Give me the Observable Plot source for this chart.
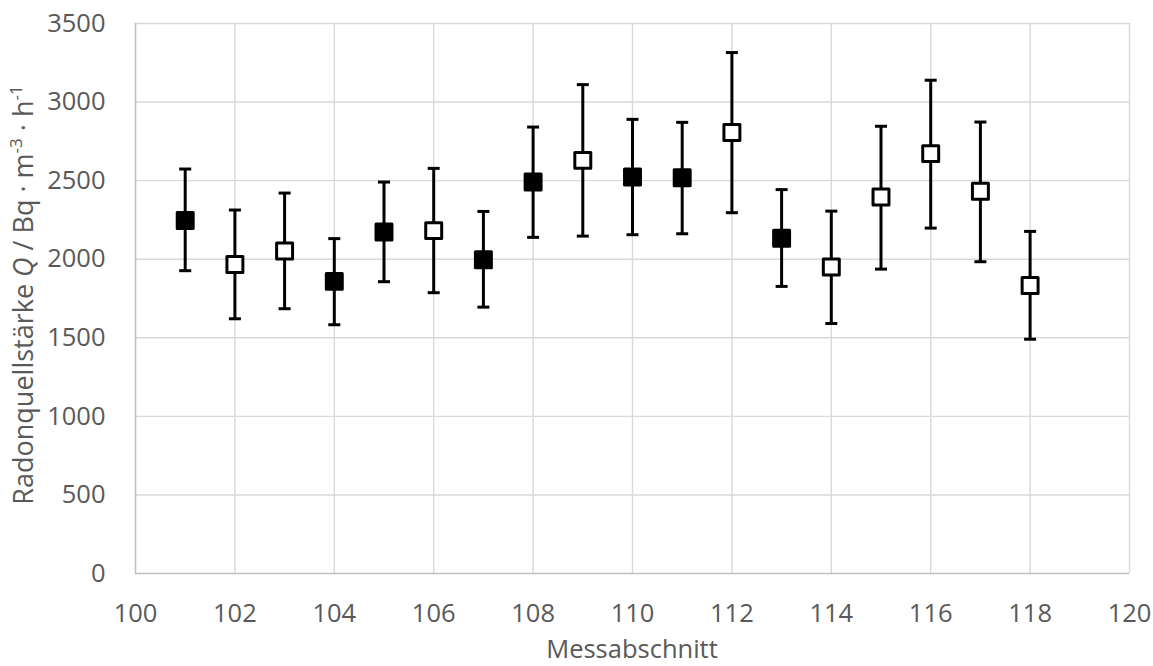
<!DOCTYPE html>
<html><head><meta charset="utf-8">
<script src="https://cdn.jsdelivr.net/npm/d3@7"></script>
<script src="https://cdn.jsdelivr.net/npm/@observablehq/plot@0.6"></script>
<style>body{margin:0;background:#fff} svg{display:block}</style>
</head><body><div id="chart"></div>
<script>
const sections = [101,102,103,104,105,106,107,108,109,110,111,112,113,114,115,116,117,118];
const values   = [2247,1967,2052,1859,2173,2182,1997,2491,2629,2523,2519,2806,2134,1950,2396,2672,2432,1833];
const upper    = [2574,2313,2421,2131,2491,2578,2304,2841,3111,2890,2871,3315,2443,2306,2846,3139,2873,2177];
const lower    = [1927,1621,1685,1583,1857,1787,1695,2139,2147,2156,2162,2296,1827,1591,1937,2198,1984,1491];
const filled   = [true,false,false,true,true,false,true,true,false,true,true,false,true,false,false,false,false,false];
const xTicks = [100,102,104,106,108,110,112,114,116,118,120];
const yTicks = [0,500,1000,1500,2000,2500,3000,3500];

const data = sections.map((s,i)=>({x:s, y:values[i], hi:upper[i], lo:lower[i], filled:filled[i]}));
const capSymbol = {draw(ctx){ ctx.moveTo(-6,0); ctx.lineTo(6,0); }};

const plot = Plot.plot({
  width: 1153, height: 666,
  marginLeft: 135, marginRight: 24, marginTop: 23, marginBottom: 93,
  style: {fontFamily: "'Open Sans', sans-serif", fontSize: "25.5px", color: "#595959", background: "#fff"},
  x: {domain: [100,120]},
  y: {domain: [0,3500]},
  marks: [
    Plot.gridX(xTicks.slice(1), {stroke: "#d9d9d9", strokeOpacity: 1, strokeWidth: 1.4}),
    Plot.gridY(yTicks.slice(1), {stroke: "#d9d9d9", strokeOpacity: 1, strokeWidth: 1.4}),
    Plot.ruleX([100], {stroke: "#bfbfbf", strokeWidth: 1.6}),
    Plot.ruleY([0], {stroke: "#bfbfbf", strokeWidth: 1.6}),
    Plot.axisX(xTicks, {tickSize: 0, tickPadding: 30, label: null, fill: "#595959", tickFormat: d => String(d)}),
    Plot.axisY(yTicks, {tickSize: 0, tickPadding: 30, label: null, fill: "#595959", tickFormat: d => String(d)}),
    Plot.ruleX(data, {x: "x", y1: "lo", y2: "hi", stroke: "#000", strokeWidth: 3}),
    Plot.dot(data, {x: "x", y: "hi", symbol: capSymbol, stroke: "#000", strokeWidth: 3, fill: "none"}),
    Plot.dot(data, {x: "x", y: "lo", symbol: capSymbol, stroke: "#000", strokeWidth: 3, fill: "none"}),
    Plot.dot(data, {x: "x", y: "y", symbol: "square", r: 9, stroke: "#000", strokeWidth: 3,
      strokeLinejoin: "round", fill: d => d.filled ? "#000" : "#fff"})
  ]
});

const svg = d3.select(plot);
svg.append("text")
  .attr("x", 632).attr("y", 658)
  .attr("text-anchor", "middle")
  .attr("fill", "#595959")
  .style("font-size", "25.5px")
  .text("Messabschnitt");

const yl = svg.append("text")
  .attr("transform", "translate(33,295) rotate(-90)")
  .attr("text-anchor", "middle")
  .attr("fill", "#595959")
  .style("font-size", "27px");
yl.append("tspan").text("Radonquellstärke ");
yl.append("tspan").attr("font-style", "italic").text("Q");
yl.append("tspan").text(" / Bq · m");
yl.append("tspan").attr("dy", -11).style("font-size", "17px").text("-3");
yl.append("tspan").attr("dy", 11).text(" · h");
yl.append("tspan").attr("dy", -11).style("font-size", "17px").text("-1");

document.getElementById("chart").appendChild(plot);
</script>
</body></html>
